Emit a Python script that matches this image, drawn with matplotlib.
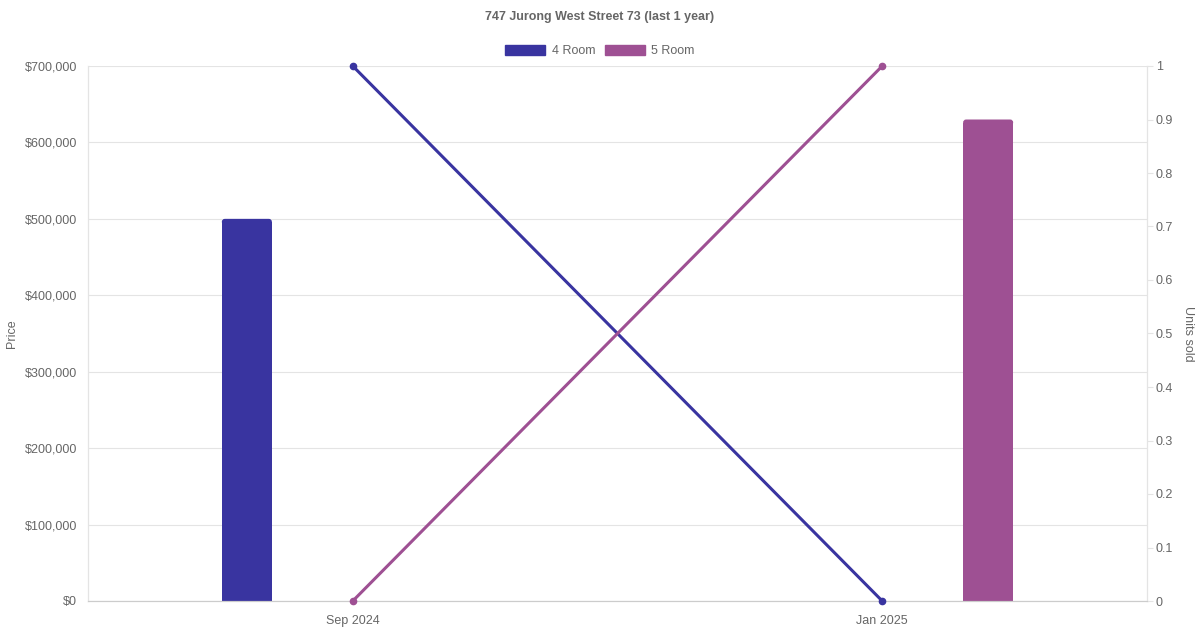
import matplotlib.pyplot as plt
from matplotlib.patches import Patch, FancyBboxPatch, Rectangle
from matplotlib.ticker import FuncFormatter, MultipleLocator

plt.rcParams['font.family'] = ['Liberation Sans', 'DejaVu Sans']

months = ["Sep 2024", "Jan 2025"]
series = ["4 Room", "5 Room"]
colors = ["#3934a0", "#9e5093"]
price_4room = [500000, 0]
price_5room = [0, 630000]
units_4room = [1, 0]
units_5room = [0, 1]

grey = "#666666"
grid = "#e4e4e4"

fig = plt.figure(figsize=(12, 6.3), dpi=100)
ax_w_px, ax_h_px = 1147 - 88, 601 - 66
ax = fig.add_axes([88 / 1200, 1 - 601 / 630, ax_w_px / 1200, ax_h_px / 630])
ax2 = ax.twinx()

ax.set_xlim(-0.5, 1.5)
ax.set_ylim(0, 700000)
ax2.set_ylim(0, 1)

x = list(range(len(months)))
bar_w = 50 / 529
offsets = [-0.2, 0.2]

# bars with slightly rounded top corners
rx = 3 * 2.0 / ax_w_px
ry = 3 * 700000 / ax_h_px
for prices, off, col in zip([price_4room, price_5room], offsets, colors):
    for i, h in zip(x, prices):
        if h <= 0:
            continue
        left = i + off - bar_w / 2
        ax.add_patch(Rectangle((left, 0), bar_w, h - ry, facecolor=col, lw=0, zorder=2))
        ax.add_patch(FancyBboxPatch((left, h - 2 * ry), bar_w, 2 * ry,
                                    boxstyle=f"round,pad=0,rounding_size={rx}",
                                    mutation_aspect=ry / rx, facecolor=col, lw=0, zorder=2))

for units, col in zip([units_4room, units_5room], colors):
    ax2.plot(x, units, color=col, lw=2.2, marker="o", ms=4.5, zorder=3, clip_on=False)

ax.set_xticks(x)
ax.set_xticklabels(months)
ax.yaxis.set_major_locator(MultipleLocator(100000))
ax.yaxis.set_major_formatter(FuncFormatter(lambda v, p: f"${v:,.0f}"))
ax2.yaxis.set_major_locator(MultipleLocator(0.1))
ax2.yaxis.set_major_formatter(FuncFormatter(lambda v, p: f"{v:.1f}".rstrip("0").rstrip(".")))

ax.grid(axis="y", color=grid, lw=0.8, zorder=0)
ax.set_axisbelow(True)
for a in (ax, ax2):
    a.spines["top"].set_visible(False)
    a.spines["left"].set_color(grid)
    a.spines["right"].set_color(grid)
    a.spines["bottom"].set_color("#cccccc")
    a.tick_params(colors=grey, labelsize=9)
ax.tick_params(axis="y", length=0, pad=8)
ax.tick_params(axis="x", length=0, pad=10)
ax2.tick_params(axis="y", length=4.3, color=grid, pad=2)

ax.set_ylabel("Price", color=grey, fontsize=9, labelpad=5)
ax2.set_ylabel("Units sold", color=grey, fontsize=9, rotation=270, labelpad=15)

fig.text(0.5, 1 - 17 / 630, "747 Jurong West Street 73 (last 1 year)", ha="center", va="center",
         fontsize=9, fontweight="bold", color=grey)

handles = [Patch(facecolor=c, edgecolor=c) for c in colors]
fig.legend(handles, series, loc="center", bbox_to_anchor=(0.5, 1 - 51 / 630), ncol=2, frameon=False,
           fontsize=9, labelcolor=grey, handlelength=3.2, handleheight=0.9, handletextpad=0.5,
           columnspacing=0.8)

fig.savefig("out.png", dpi=100)
